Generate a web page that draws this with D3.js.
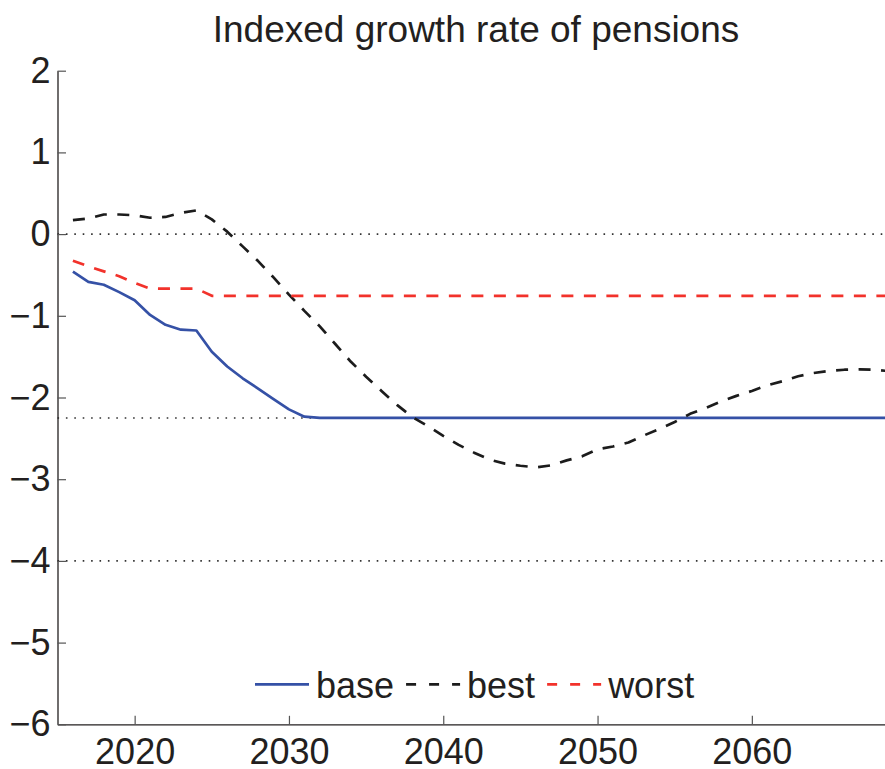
<!DOCTYPE html>
<html>
<head>
<meta charset="utf-8">
<script src="https://cdn.jsdelivr.net/npm/d3@7"></script>
<style>
  html, body { margin: 0; padding: 0; background: #fff; }
  svg { display: block; }
  text { font-family: "Liberation Sans", Arial, Helvetica, sans-serif; fill: #231f20; }
</style>
</head>
<body>
<svg id="chart" width="885" height="769"></svg>
<script>
// Yearly projections, 2016–2070
const years = d3.range(2016, 2071);

const base = [
  -0.46, -0.585, -0.62, -0.71, -0.81, -0.99, -1.11, -1.17, -1.18, -1.44,
  -1.62, -1.765, -1.89, -2.02, -2.145, -2.235, -2.25, -2.25, -2.25, -2.25,
  -2.25, -2.25, -2.25, -2.25, -2.25, -2.25, -2.25, -2.25, -2.25, -2.25,
  -2.25, -2.25, -2.25, -2.25, -2.25, -2.25, -2.25, -2.25, -2.25, -2.25,
  -2.25, -2.25, -2.25, -2.25, -2.25, -2.25, -2.25, -2.25, -2.25, -2.25,
  -2.25, -2.25, -2.25, -2.25, -2.25
];

const best = [
  0.17, 0.19, 0.24, 0.24, 0.23, 0.20, 0.21, 0.26, 0.29, 0.18,
  0.03, -0.15, -0.33, -0.53, -0.74, -0.94, -1.13, -1.345, -1.56, -1.745,
  -1.92, -2.09, -2.24, -2.35, -2.47, -2.58, -2.675, -2.76, -2.81, -2.835,
  -2.855, -2.83, -2.77, -2.72, -2.635, -2.60, -2.55, -2.465, -2.385, -2.30,
  -2.20, -2.13, -2.05, -1.98, -1.92, -1.85, -1.80, -1.74, -1.70, -1.675,
  -1.66, -1.655, -1.66, -1.68, -1.70
];

const worst = [
  -0.325, -0.395, -0.456, -0.515, -0.598, -0.667, -0.667, -0.667, -0.667, -0.755,
  -0.755, -0.755, -0.755, -0.755, -0.755, -0.755, -0.755, -0.755, -0.755, -0.755,
  -0.755, -0.755, -0.755, -0.755, -0.755, -0.755, -0.755, -0.755, -0.755, -0.755,
  -0.755, -0.755, -0.755, -0.755, -0.755, -0.755, -0.755, -0.755, -0.755, -0.755,
  -0.755, -0.755, -0.755, -0.755, -0.755, -0.755, -0.755, -0.755, -0.755, -0.755,
  -0.755, -0.755, -0.755, -0.755, -0.755
];

// Dotted reference levels
const refLevels = [0, -2.25, -4];

const xTicks = [2020, 2030, 2040, 2050, 2060];
const yTicks = [2, 1, 0, -1, -2, -3, -4, -5, -6];

const seriesNames = ["base", "best", "worst"];
const seriesData = [base, best, worst];

const title = "Indexed growth rate of pensions";

// ---- styling ----
const styles = {
  base:  { color: "#3551a6", dash: null,       legendDash: null },
  best:  { color: "#1c1c1c", dash: "12,10.5",  legendDash: "10,13" },
  worst: { color: "#f2322b", dash: "12,10.5",  legendDash: "10,13" }
};

const svg = d3.select("#chart");
const plotLeft = 57.5, plotTop = 70.7, plotBottom = 724.3;
const pxPerYear = 15.43;

const x = d3.scaleLinear().domain([2015, 2070]).range([plotLeft, plotLeft + 55 * pxPerYear]);
const y = d3.scaleLinear().domain([-6, 2]).range([plotBottom, plotTop]);

// Title
svg.append("text")
  .attr("x", 476).attr("y", 42)
  .attr("text-anchor", "middle")
  .style("font-size", "37px")
  .text(title);

// Reference dotted lines
svg.append("g").selectAll("line")
  .data(refLevels)
  .join("line")
  .attr("x1", x(2015)).attr("x2", x(2070))
  .attr("y1", d => y(d)).attr("y2", d => y(d))
  .attr("stroke", "#333")
  .attr("stroke-width", 1.6)
  .attr("stroke-dasharray", "1.6,6.8");

// Series lines
const line = d3.line()
  .x((d, i) => x(years[i]))
  .y(d => y(d));

seriesNames.forEach((name, k) => {
  svg.append("path")
    .datum(seriesData[k])
    .attr("fill", "none")
    .attr("stroke", styles[name].color)
    .attr("stroke-width", 2.7)
    .attr("stroke-linejoin", "round")
    .attr("stroke-dasharray", styles[name].dash)
    .attr("d", line);
});

// Axes
const xAxis = d3.axisBottom(x)
  .tickValues(xTicks)
  .tickFormat(d3.format("d"))
  .tickSizeInner(-8.5)
  .tickSizeOuter(0)
  .tickPadding(13.7);

const yAxis = d3.axisLeft(y)
  .tickValues(yTicks)
  .tickFormat(d3.format("d"))
  .tickSizeInner(-8.5)
  .tickSizeOuter(0)
  .tickPadding(7);

const gx = svg.append("g")
  .attr("transform", `translate(0,${plotBottom})`)
  .call(xAxis);

const gy = svg.append("g")
  .attr("transform", `translate(${plotLeft},0)`)
  .call(yAxis);

[gx, gy].forEach(g => {
  g.select(".domain").attr("stroke", "#231f20").attr("stroke-width", 1.3);
  g.selectAll(".tick line").attr("stroke", "#555").attr("stroke-width", 1.2);
  g.selectAll(".tick text")
    .style("font-size", "36px")
    .style("font-family", "\"Liberation Sans\", Arial, Helvetica, sans-serif")
    .attr("fill", "#231f20");
});

// Legend: sample line followed by label, laid out left to right
const legend = svg.append("g");
let lx = 255;
const ly = 684.3;
seriesNames.forEach(name => {
  legend.append("line")
    .attr("x1", lx).attr("x2", lx + 54)
    .attr("y1", ly).attr("y2", ly)
    .attr("stroke", styles[name].color)
    .attr("stroke-width", 2.7)
    .attr("stroke-dasharray", styles[name].legendDash);
  const t = legend.append("text")
    .attr("x", lx + 61)
    .attr("y", ly + 14)
    .style("font-size", "36px")
    .text(name);
  lx = lx + 61 + t.node().getComputedTextLength() + 12;
});
</script>
</body>
</html>
